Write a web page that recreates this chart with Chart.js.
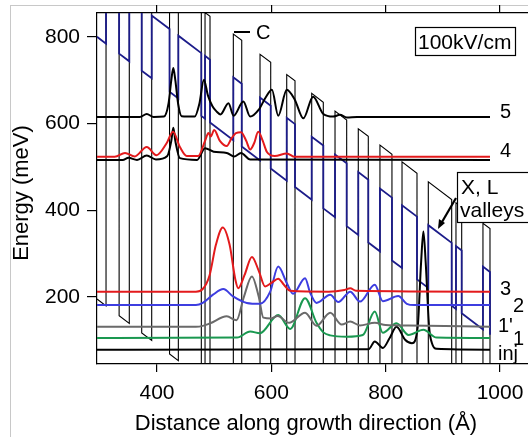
<!DOCTYPE html>
<html>
<head>
<meta charset="utf-8">
<script src="https://cdn.jsdelivr.net/npm/chart.js@4.4.1/dist/chart.umd.min.js"></script>
<style>
  html, body { margin: 0; padding: 0; background: #fff; }
  #wrap { position: relative; width: 528px; height: 437px; overflow: hidden; }
  #frame { position: absolute; left: 10px; top: 5px; width: 530px; height: 440px;
           border-left: 1px solid #c8c8c8; border-top: 1px solid #c8c8c8; }
  canvas { position: absolute; left: 0; top: 0; }
</style>
</head>
<body>
<div id="wrap"><div id="frame"></div><canvas id="chart" width="528" height="437"></canvas></div>
<script>
// axis ticks
const xTicks = [400, 600, 800, 1000];
const yTicks = [200, 400, 600, 800];

// layer structure (Å): [start, end] of each barrier
const barrierLayers = [
  [310.8, 333.7], [351.5, 373.2], [390.7, 421.9], [437.3, 477.5], [484, 492.7],
  [533.5, 548.2], [580.2, 598.9], [626.9, 641.4], [670.6, 690.9], [711.4, 731.8],
  [752.1, 769.6], [790, 811], [828.6, 854.8], [874.6, 915.5], [923, 933], [970.2, 982.5]
];
const structureStart = 295;
const structureEnd = 982.5;

// band edges (meV): 100 kV/cm = 1 meV per Å
const fieldSlope = 1;
const gammaWellAt0 = 490;
const gammaBarrierStep = 850;
const xValleyWellStep = 605;
const xValleyBarrierStep = 750;

// subband levels
const levelNames = ['5', '4', '3', '2', "1'", '1', 'inj'];
const levelEnergies = [615, 523, 212, 181, 131, 105, 78];

// |psi|^2 curves, [distance Å, energy meV]
const wave5 = [[295,615],[370,615],[382,622],[394,615],[412,616],[420,645],[425,700],[428.5,728],[432,700],[437,645],
  [443,617],[466,616],[474,645],[482,701],[489,665],[497,640],[504,628],[511,621],[525,647],[534,618],[551,651],
  [563,616],[578,632],[590,660],[601,678],[612,618],[627,678],[641,655],[656,612],[673,662],[691,622],[708,616],
  [720,620],[732,614],[750,615],[982.5,615]];
const wave4 = [[295,523],[326,523],[344,532],[361,524],[382,546],[399,527],[417,555],[428,581],[440,546],[452,525],
  [472,525],[484,560],[490,578],[494,570],[500,585],[510,560],[522,548],[530,565],[538,578],[547,580],[556,560],
  [563,540],[570,555],[577,581],[585,560],[592,535],[606,525],[627,531],[641,523],[982.5,523]];
const wave4b = [[295,516],[340,516],[350,521],[365,516],[382,526],[398,517],[418,525],[425,560],[428.5,590],[432,560],
  [440,520],[470,516],[484,543],[499,535],[522,532],[535,524],[547,532],[563,517],[982.5,516]];
const wave3 = [[295,212],[468,212],[480,218],[492,250],[503,320],[515,360],[527,320],[537,240],[542,220],[553,250],
  [566,292],[578,260],[589,224],[600,232],[612,242],[622,228],[633,214],[700,212],[728,216],[738,220],[748,214],
  [982.5,212]];
const wave2 = [[295,181],[468,181],[480,186],[498,205],[516,218],[533,201],[557,186],[580,184],[598,212],[612,270],
  [627,232],[638,207],[659,243],[668,209],[679,186],[703,205],[717,188],[738,212],[755,189],[781,228],[795,190],
  [822,202],[837,184],[850,181],[982.5,181]];
const wave1p = [[295,131],[468,131],[480,133],[493,139],[522,155],[539,146],[552,200],[566,247],[578,200],[586,152],
  [600,150],[611,156],[631,140],[659,163],[679,133],[703,163],[723,136],[738,143],[755,134],[781,140],[800,135],
  [840,134],[982.5,131]];
const wave1 = [[295,105],[540,106],[563,120],[580,116],[612,158],[633,126],[659,197],[679,140],[691,118],[703,111],
  [732,108],[760,112],[781,166],[795,117],[819,139],[840,112],[866,124],[889,106],[982.5,105]];
const waveInj = [[295,78],[770,79],[781,97],[795,82],[807,105],[819,131],[834,101],[846,93],[856,130],[862,280],
  [866,351],[870,280],[876,130],[881,93],[889,80],[982.5,78]];

// piecewise band profile from the layer list
function bandProfile(wellStep, barrierStep) {
  const e = (x, step) => gammaWellAt0 + step - fieldSlope * x;
  const pts = [{ x: structureStart, y: e(structureStart, wellStep) }];
  barrierLayers.forEach(([a, b]) => {
    pts.push({ x: a, y: e(a, wellStep) }, { x: a, y: e(a, barrierStep) },
             { x: b, y: e(b, barrierStep) }, { x: b, y: e(b, wellStep) });
  });
  return pts;
}

const FONT = '"Liberation Sans", Arial, Helvetica, sans-serif';

const wave = (pts, color) => ({
  data: pts.map(([x, y]) => ({ x, y })),
  borderColor: color, borderWidth: 2, pointRadius: 0, showLine: true,
  cubicInterpolationMode: 'monotone', xAxisID: 'x', yAxisID: 'y'
});
const band = (pts, color, width) => ({
  data: pts, borderColor: color, borderWidth: width, pointRadius: 0, showLine: true,
  tension: 0, xAxisID: 'x', yAxisID: 'y'
});

const labelOffsets = [[10, 1], [10, 0], [10, 3], [23, 7], [8, 5], [23, 7], [8, 10]];

const annotate = {
  id: 'annotate',
  afterDraw(chart) {
    const { ctx } = chart;
    const x = chart.scales.x, y = chart.scales.y;
    ctx.save();
    ctx.fillStyle = '#000';
    ctx.strokeStyle = '#000';
    ctx.textBaseline = 'alphabetic';

    // level names at the line ends
    ctx.font = '20px ' + FONT;
    ctx.textAlign = 'left';
    const xe = x.getPixelForValue(structureEnd);
    levelNames.forEach((name, i) => {
      ctx.fillText(name, xe + labelOffsets[i][0], y.getPixelForValue(levelEnergies[i]) + labelOffsets[i][1]);
    });

    // "C" marker
    ctx.lineWidth = 2;
    ctx.beginPath(); ctx.moveTo(234, 32); ctx.lineTo(250, 32); ctx.stroke();
    ctx.fillText('C', 256, 39);

    // field box
    ctx.font = '21px ' + FONT;
    ctx.lineWidth = 1.2;
    ctx.fillStyle = '#fff';
    ctx.fillRect(415, 27, 100, 28);
    ctx.strokeRect(415.5, 27.5, 100, 28);
    ctx.fillStyle = '#000';
    ctx.fillText('100kV/cm', 418, 49);

    // X, L valleys box and arrow
    ctx.fillStyle = '#fff';
    ctx.fillRect(457, 172, 75, 50);
    ctx.strokeRect(457.5, 172.5, 75, 50);
    ctx.fillStyle = '#000';
    ctx.fillText('X, L', 461, 194);
    ctx.fillText('valleys', 460, 217);
    ctx.lineWidth = 2.2;
    ctx.beginPath(); ctx.moveTo(456, 198); ctx.lineTo(442, 222); ctx.stroke();
    ctx.beginPath(); ctx.moveTo(438, 229); ctx.lineTo(439, 219); ctx.lineTo(445, 223); ctx.closePath(); ctx.fill();

    // axis titles
    ctx.font = '22px ' + FONT;
    ctx.textAlign = 'center';
    ctx.fillText('Distance along growth direction (\u00C5)', 306, 430);
    ctx.translate(28, 193);
    ctx.rotate(-Math.PI / 2);
    ctx.fillText('Energy (meV)', 0, 0);
    ctx.restore();
  }
};

const tickFix = list => s => { s.ticks = list.map(v => ({ value: v })); };
const noPad = size => s => {
  Object.assign(s, size);
  s.paddingTop = 0; s.paddingBottom = 0; s.paddingLeft = 0; s.paddingRight = 0;
};

new Chart(document.getElementById('chart'), {
  type: 'scatter',
  data: {
    datasets: [
      wave(wave5, '#000000'),
      wave(wave4, '#e31a1c'),
      wave(wave4b, '#000000'),
      wave(wave3, '#e31a1c'),
      wave(wave2, '#3d3de0'),
      wave(wave1p, '#6a6a6a'),
      wave(wave1, '#1a9850'),
      wave(waveInj, '#000000'),
      band(bandProfile(xValleyWellStep, xValleyBarrierStep), '#1c1c8a', 1.8),
      band(bandProfile(0, gammaBarrierStep), '#000000', 1.1)
    ]
  },
  options: {
    responsive: false,
    animation: false,
    devicePixelRatio: 1,
    layout: { padding: 0 },
    plugins: { legend: { display: false }, tooltip: { enabled: false } },
    scales: {
      x: {
        type: 'linear', position: 'bottom', min: 295, max: 1049,
        afterBuildTicks: tickFix(xTicks),
        afterFit: noPad({ height: 73 }),
        ticks: { font: { family: FONT, size: 21 }, color: '#000', padding: 9, maxRotation: 0,
                 callback: v => String(v) },
        grid: { drawOnChartArea: false, tickLength: 8, color: '#000', lineWidth: 1.2 },
        border: { color: '#000', width: 1.2 }
      },
      xTop: {
        type: 'linear', position: 'top', axis: 'x', min: 295, max: 1049,
        afterBuildTicks: tickFix(xTicks),
        afterFit: noPad({ height: 13 }),
        ticks: { display: false },
        grid: { drawOnChartArea: false, tickLength: 8, color: '#000', lineWidth: 1.2 },
        border: { color: '#000', width: 1.2 }
      },
      y: {
        type: 'linear', position: 'left', min: 45, max: 855,
        afterBuildTicks: tickFix(yTicks),
        afterFit: noPad({ width: 97 }),
        ticks: { font: { family: FONT, size: 21 }, color: '#000', padding: 7,
                 callback: v => String(v) },
        grid: { drawOnChartArea: false, tickLength: 10, color: '#000', lineWidth: 1.2 },
        border: { color: '#000', width: 1.2 }
      }
    }
  },
  plugins: [annotate]
});
</script>
</body>
</html>
